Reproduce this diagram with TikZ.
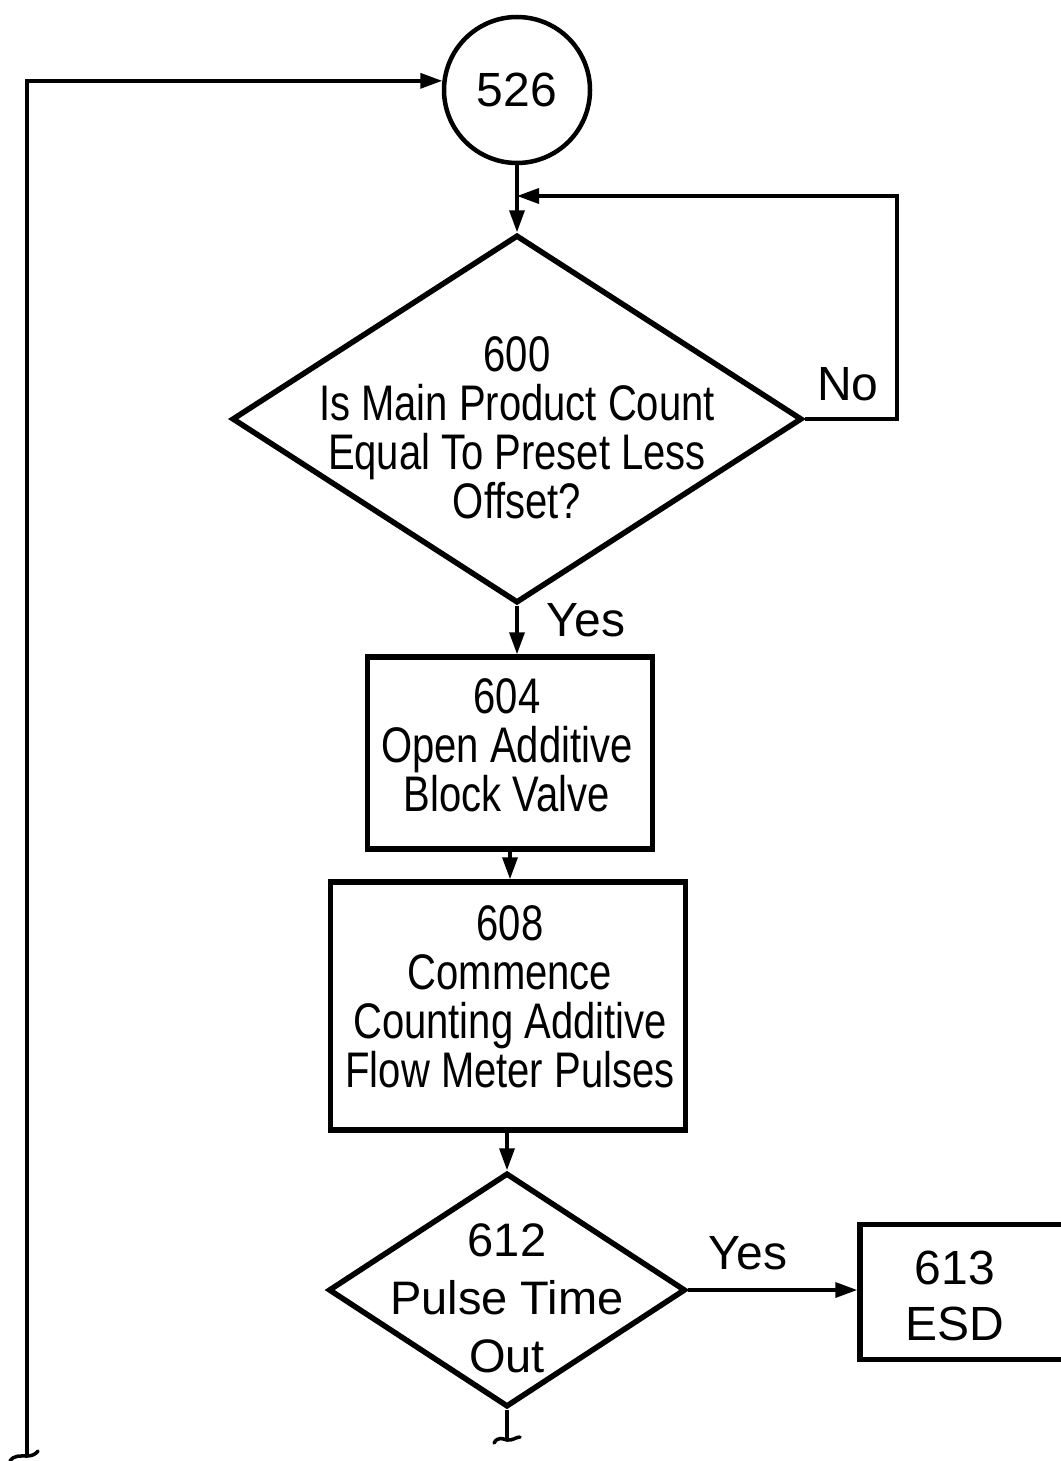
\documentclass[tikz,border=0pt]{standalone}
\usepackage{fontspec}
\setmainfont{Liberation Sans}
\newfontfamily\narrowfont[FakeStretch=0.8]{Liberation Sans}
\usetikzlibrary{arrows.meta,shapes.geometric}
\tikzset{
  arr/.style={line width=3.5pt,-{Triangle[length=22pt,width=15pt]}},
  conn/.style={line width=3.5pt},
  shp/.style={draw,line width=5.5pt,inner sep=0pt},
  decide/.style={shp,diamond},
  stepbox/.style={shp,rectangle},
  narrowtxt/.style={align=center,font=\narrowfont\fontsize{50}{49}\selectfont},
  widetxt/.style={align=center,font=\fontsize{47}{58}\selectfont},
  lbl/.style={font=\fontsize{48}{56}\selectfont}
}
\begin{document}
\begin{tikzpicture}[x=1pt,y=-1pt]
\useasboundingbox (0,0) rectangle (1060,1461);
% shapes
\node[shp,line width=4.5pt,circle,minimum size=146pt] (c526) at (517,90) {};
\node[lbl] (t526) at (517,90) {526};
\node[decide,minimum width=570pt,minimum height=368pt] (d600) at (517,419) {};
\node[narrowtxt] (t600) at (517,428) {600\\Is Main Product Count\\Equal To Preset Less\\Offset?};
\node[stepbox,minimum width=285pt,minimum height=192pt] (b604) at (510,753) {};
\node[narrowtxt] (t604) at (507,745) {604\\Open Additive\\Block Valve};
\node[stepbox,minimum width=355pt,minimum height=248pt] (b608) at (508,1006) {};
\node[narrowtxt] (t608) at (510,997) {608\\Commence\\Counting Additive\\Flow Meter Pulses};
\node[decide,minimum width=357pt,minimum height=234pt] (d612) at (507,1290) {};
\node[widetxt] (t612) at (507,1298) {612\\Pulse Time\\Out};
\node[stepbox,minimum width=260pt,minimum height=135pt] (b613) at (990,1292) {};
\node[widetxt,font=\fontsize{48}{56}\selectfont] (t613) at (955,1296) {613\\ESD};
% labels
\node[lbl] (lno) at (848,384) {No};
\node[lbl] (lyes1) at (586,620) {Yes};
\node[lbl] (lyes2) at (748,1253) {Yes};
% coordinates
\coordinate (fb) at (897,196);
\coordinate (fbin) at (517,196);
\coordinate (sq1) at (507,1440);
\coordinate (bl) at (27,1456);
% connectors
\draw[arr] (c526.south) -- (d600.north);
\draw[arr] (d600.east) -| (fb) -- (fbin);
\draw[arr] (d600.south) -- (d600.south |- b604.north);
\draw[arr] (b604.south) -- (b604.south |- b608.north);
\draw[arr] (b608.south -| d612.north) -- (d612.north);
\draw[arr] (d612.east) -- (d612.east -| b613.west);
\draw[conn] (d612.south) -- (sq1);
\draw[conn,line cap=round] (494,1443) .. controls (498,1436) and (503,1439) .. (sq1) .. controls (512,1441) and (516,1437) .. (520,1437);
\draw[arr] (bl) |- (c526.173);
\draw[conn,line cap=round] (10,1461) .. controls (14,1455) and (20,1456) .. (bl) .. controls (32,1456) and (36,1454) .. (38,1451);
\end{tikzpicture}
\end{document}
